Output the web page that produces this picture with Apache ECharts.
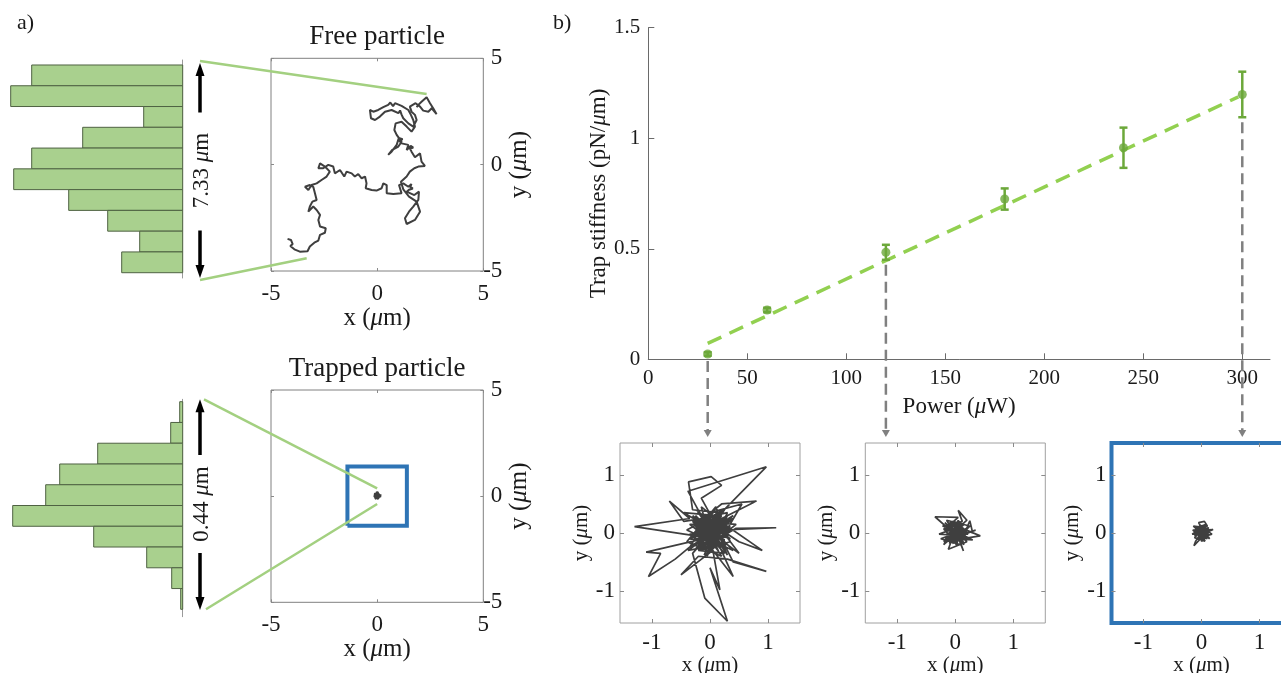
<!DOCTYPE html>
<html><head><meta charset="utf-8">
<script src="https://cdn.jsdelivr.net/npm/echarts@6/dist/echarts.min.js"></script>
<style>html,body{margin:0;padding:0;background:#fff}#c{width:1281px;height:673px}</style>
</head><body><div id="c"></div>
<script>
// ---------------- data ----------------
const histBins = [1,2,3,4,5,6,7,8,9,10];
const freeHistCounts = [151,172,39,100,151,169,114,75,43,61];
const trapHistCounts = [3,12,85,123,137,170,89,36,11,2];
const freeSpanLabel = '7.33 {i|μ}m';
const trapSpanLabel = '0.44 {i|μ}m';

const freeTraj = [
[-4.22,-3.49],[-4.06,-3.54],[-3.98,-3.74],[-4.09,-3.82],[-3.90,-3.98],[-3.64,-4.09],[-3.28,-4.07],[-3.17,-3.85],[-2.96,-3.67],[-2.77,-3.57],[-2.69,-3.30],[-2.46,-3.20],[-2.42,-2.99],[-2.69,-2.91],[-2.77,-2.60],[-2.69,-2.36],[-2.85,-2.13],[-3.01,-1.97],[-3.24,-2.21],[-3.17,-1.97],[-3.05,-1.74],[-2.85,-1.66],[-2.93,-1.35],[-3.01,-1.04],[-3.17,-0.96],[-3.40,-1.04],[-3.24,-1.19],[-3.09,-0.96],[-2.85,-0.88],[-2.62,-0.72],[-2.38,-0.56],[-2.23,-0.33],[-2.46,-0.09],[-2.69,0.06],[-2.77,-0.17],[-2.54,-0.17],[-2.30,-0.01],[-2.07,-0.09],[-1.99,-0.41],[-1.75,-0.25],[-1.55,-0.56],[-1.44,-0.33],[-1.20,-0.41],[-1.05,-0.56],[-0.89,-0.44],[-0.73,-0.64],[-0.57,-0.56],[-0.50,-0.88],[-0.54,-1.11],[-0.26,-1.19],[-0.03,-1.22],[0.21,-1.11],[0.29,-0.88],[0.45,-0.96],[0.45,-1.35],[0.76,-1.38],[1.15,-1.35],[1.03,-0.96],[1.23,-0.88],[1.47,-1.04],[1.62,-0.91],[1.55,-1.05],[1.68,-1.12],[1.50,-1.18],[1.39,-1.27],[1.75,-1.43],[1.97,-1.27],[1.94,-1.66],[1.70,-1.97],[1.50,-2.21],[1.31,-2.52],[1.39,-2.79],[1.78,-2.60],[2.02,-2.21],[1.86,-1.74],[1.50,-1.50],[1.23,-1.16],[1.12,-0.80],[1.39,-0.56],[1.54,-0.33],[1.75,-0.17],[1.94,-0.09],[2.25,-0.06],[2.09,0.14],[2.02,0.53],[1.78,0.35],[1.62,0.61],[1.55,0.75],[1.70,0.80],[1.58,0.88],[1.39,0.69],[1.47,0.93],[1.15,1.00],[1.05,1.12],[1.20,1.20],[1.02,1.25],[0.92,0.93],[0.68,0.61],[0.52,0.46],[0.71,0.69],[1.00,0.85],[1.15,1.08],[0.92,1.40],[0.81,1.63],[0.87,1.94],[1.15,2.02],[1.39,1.79],[1.62,1.55],[1.78,1.79],[1.70,2.10],[1.59,2.34],[1.47,2.57],[1.15,2.76],[0.84,2.89],[0.75,2.75],[0.62,2.92],[0.52,2.81],[0.29,2.70],[0.05,2.57],[-0.18,2.49],[-0.34,2.57],[-0.29,2.18],[-0.10,2.10],[0.13,2.26],[0.37,2.49],[0.68,2.57],[1.00,2.42],[1.08,2.55],[1.15,2.35],[1.23,2.18],[1.47,1.94],[1.70,1.79],[1.86,2.10],[1.78,2.34],[1.62,2.49],[1.54,2.73],[1.81,2.89],[2.02,2.73],[2.17,2.54],[2.41,2.49],[2.57,2.65],[2.80,2.37],[2.64,2.65],[2.49,2.89],[2.33,3.17],[2.09,2.96],[1.94,2.81],[1.86,2.70]
];
const freeAnchors = [[2.33,3.32],[-3.32,-4.40]];

const traj30 = [
[0.05,0.02],[-0.2,0.15],[0.1,-0.1],[-1.30,0.11],[-0.35,0.25],[-0.70,0.55],[-0.45,0.2],[0.2,0.3],[-0.1,-0.2],[0.3,0.1],[-0.25,-0.05],[0.15,0.35],[-0.3,0.4],[-0.37,0.88],[0.02,0.97],[0.2,0.82],[-0.15,0.6],[0.1,0.15],[0.4,0.25],[-0.2,-0.3],[0.25,-0.35],[-0.1,0.05],[0.97,1.14],[-0.38,0.72],[-0.15,0.3],[0.35,-0.1],[-0.3,0.1],[0.2,0.5],[0.8,0.55],[0.1,0.2],[-0.2,-0.15],[0.3,0.3],[-0.05,-0.4],[0.15,0.05],[1.14,0.09],[0.45,0.08],[0.05,-0.15],[-0.35,-0.1],[0.25,0.15],[0.9,-0.3],[0.5,-0.15],[-0.1,0.25],[0.2,-0.25],[-0.25,0.3],[0.1,-0.05],[-1.10,-0.33],[-0.85,-0.35],[-1.06,-0.75],[-0.6,-0.45],[-0.3,-0.2],[0.35,0.05],[-0.15,0.45],[0.05,-0.3],[-0.5,-0.72],[-0.2,-0.4],[0.3,-0.45],[0.97,-0.66],[0.4,-0.5],[0.1,0.1],[-0.3,-0.35],[-0.09,-1.12],[0.3,-1.52],[0.0,-0.6],[0.17,-0.98],[0.05,-0.3],[0.4,-0.75],[0.15,-0.2],[-0.4,0.05],[0.25,0.4],[-0.1,-0.1],[0.35,0.25],[-0.35,-0.25],[0.0,0.35],[0.55,0.5],[0.2,-0.1],[-0.2,0.2],[0.3,-0.2],[-0.15,-0.1],[0.1,0.3],[-0.45,0.35],[0.05,0.05],[0.4,-0.3],[-0.25,0.0],[0.15,0.2],[-0.05,-0.25],[0.45,0.15],[-0.3,0.2],[0.0,-0.1],[0.25,0.05],[-0.15,0.15],[0.2,-0.4],[-0.4,-0.15],[0.1,0.45],[0.3,-0.05],[-0.2,-0.2],[0.05,0.25],[0.5,-0.35],[-0.1,0.1],[0.2,0.15],[-0.35,0.15],[0.1,-0.2],[0.0,0.1],
[0.12,-0.05],[-0.22,0.1],[0.28,0.2],[-0.05,-0.35],[0.18,0.28],[-0.32,-0.08],[0.08,0.38],[0.35,-0.15],[-0.18,-0.3],[0.22,0.02],[-0.12,0.32],[0.05,-0.18],[0.3,0.35],[-0.28,0.22],[0.15,-0.32],[-0.08,0.18],[0.38,0.05],[-0.35,-0.02],[0.0,-0.28],[0.2,0.4],[-0.2,0.0],[0.12,0.15],[-0.1,-0.38],[0.25,-0.12],[-0.3,0.3],[0.08,-0.08],[0.32,0.22],[-0.15,-0.22],[0.02,0.3],[0.28,-0.28],[-0.25,0.12],[0.1,0.0],[-0.05,0.4],[0.18,-0.2],[-0.38,-0.3],[0.22,0.12],[-0.12,-0.12],[0.05,0.2],[0.3,-0.38],[-0.22,0.38],[0.15,0.1],[-0.3,-0.15],[0.4,0.3],[0.0,-0.05],[-0.18,0.25],[0.25,-0.02],[-0.08,-0.2],[0.12,0.25],[-0.25,-0.28],[0.35,0.12]
];
const traj120 = [
[0,0],[-0.15,0.1],[0.1,-0.12],[-0.35,0.28],[0.05,0.27],[-0.2,0.05],[0.12,0.2],[0.05,0.39],[0.2,0.22],[-0.1,-0.05],[0.15,0.05],[-0.25,-0.1],[0.08,-0.2],[0.25,0.21],[0.3,0.0],[-0.05,0.15],[0.43,-0.05],[0.1,-0.1],[-0.18,0.18],[0.2,-0.15],[-0.12,-0.28],[0.0,0.05],[0.14,-0.31],[0.05,-0.05],[0.35,0.05],[-0.2,-0.15],[0.1,0.12],[-0.28,-0.02],[0.18,-0.05],[-0.05,-0.18],[0.25,0.12],[-0.15,0.22],[0.05,-0.1],[0.3,-0.12],[-0.1,0.08],[0.12,0.0],[-0.22,0.12],[0.08,0.18],[-0.05,-0.12],[0.2,0.08],[-0.15,-0.08],[0.05,0.1],[0.15,-0.2],[-0.08,0.02],[0.1,0.06],[-0.2,-0.2],[0.02,0.15],[0.22,-0.02],[-0.12,0.0],[0.0,-0.15],[0.1,0.1],
[0.08,0.05],[-0.12,-0.1],[0.15,0.15],[-0.05,0.2],[0.18,-0.1],[-0.2,0.08],[0.02,-0.2],[0.12,0.1],[-0.15,-0.02],[0.1,-0.15],[-0.08,0.14],[0.2,0.02],[-0.1,-0.18],[0.05,0.22],[0.16,-0.05],[-0.18,-0.12],[0.0,0.12],[0.12,-0.08],[-0.05,-0.08],[0.08,0.2],[-0.14,0.06],[0.2,-0.12],[0.0,-0.02],[-0.1,0.18],[0.14,0.08],[-0.04,-0.14],[0.06,0.02],[-0.16,0.14],[0.1,-0.04],[-0.02,0.08]
];
const traj300 = [
[0,0],[-0.1,0.08],[0.08,-0.05],[-0.05,0.18],[0.05,0.2],[0.1,0.12],[-0.12,-0.05],[0.15,0.05],[-0.15,0.05],[0.05,-0.12],[-0.08,-0.1],[0.18,-0.02],[0.0,0.1],[-0.14,0.12],[0.1,-0.1],[-0.05,-0.05],[0.2,0.06],[0.02,0.05],[-0.1,-0.14],[-0.13,-0.22],[0.0,-0.08],[0.12,0.0],[-0.06,0.1],[0.08,0.15],[-0.16,-0.02],[0.05,-0.02],[0.14,-0.1],[-0.02,0.14],[-0.1,0.0],[0.06,0.08],[0.0,-0.15],[0.12,0.08],[-0.08,0.04],[0.04,-0.06],[0.0,0.0],
[0.05,0.08],[-0.08,-0.02],[0.1,0.04],[-0.04,0.12],[0.08,-0.08],[-0.12,0.06],[0.02,-0.1],[0.12,0.1],[-0.06,-0.12],[0.04,0.0],[-0.1,0.1],[0.14,-0.04],[-0.02,0.06],[0.06,-0.14],[-0.12,-0.08],[0.1,0.14],[-0.04,0.02],[0.02,0.12],[0.08,0.02],[-0.06,0.06]
];
const trapAnchors = [[0,0.37],[0,-0.37]];
const zoomBox = [[-1.4,-1.4],[1.4,-1.4],[1.4,1.4],[-1.4,1.4],[-1.4,-1.4]];

const power = [30,60,120,180,240,300];
const stiffness = [0.024,0.223,0.484,0.725,0.957,1.198];
const stiffnessErr = [0.008,0.010,0.034,0.048,0.091,0.103];
const fitLine = [[30,0.072],[298,1.187]];
const zoomPowerIdx = [0,2,5];

// ---------------- layout / style ----------------
const FONT = 'Liberation Serif';
const TXT = '#1a1a1a';
const GRAY = '#8a8a8a';
const BAR_FILL = '#a9d08e';
const BAR_EDGE = '#4f6243';
const LINK = '#a3d080';
const PT = '#6ca83a';
const FIT = '#92d050';
const TRAJ = '#3f3f3f';
const BLUE = '#2e74b5';

const L = {
  hist1: {left:0, top:60, width:182.7, height:218},
  free:  {left:271, top:58.3, width:212.3, height:212.7},
  hist2: {left:0, top:399.3, width:182.7, height:217.4},
  trap:  {left:271, top:390, width:212.3, height:212.3},
  main:  {left:648.3, top:27.7, width:621.7, height:331.6},
  s1:    {left:620, top:443, width:180, height:180},
  s2:    {left:865.3, top:443, width:180, height:180},
  s3:    {left:1111.5, top:443, width:180, height:180}
};

function rich(size){
  return {fontFamily:FONT, fontSize:size, color:TXT,
    rich:{i:{fontFamily:FONT, fontSize:size, fontStyle:'italic', color:TXT}}};
}

const grids = [], xAxes = [], yAxes = [], series = [];
function addGrid(r, extra){
  grids.push(Object.assign({left:r.left, top:r.top, width:r.width, height:r.height,
    containLabel:false, outerBoundsMode:'none', show:false}, extra||{}));
  return grids.length-1;
}

function histAxes(gi, ymin, ymax){
  xAxes.push({type:'value', gridIndex:gi, min:0, max:182.7, inverse:true, show:false});
  yAxes.push({type:'value', gridIndex:gi, min:ymin, max:ymax, inverse:true, position:'right',
    axisLine:{show:true, onZero:false, lineStyle:{color:'#9a9a9a', width:1}},
    axisTick:{show:false}, axisLabel:{show:false}, splitLine:{show:false}});
  return [xAxes.length-1, yAxes.length-1];
}
function histSeries(ax, counts){
  series.push({type:'custom', xAxisIndex:ax[0], yAxisIndex:ax[1], silent:true,
    encode:{x:1, y:0},
    data: histBins.map((b,i)=>[b, counts[i]]),
    renderItem:function(params, api){
      const b = api.value(0), c = api.value(1);
      const p0 = api.coord([0, b-0.5]), p1 = api.coord([c, b+0.5]);
      return {type:'rect', shape:{x:Math.min(p0[0],p1[0]), y:Math.min(p0[1],p1[1]),
        width:Math.abs(p1[0]-p0[0]), height:Math.abs(p1[1]-p0[1])},
        style:{fill:BAR_FILL, stroke:BAR_EDGE, lineWidth:1}};
    }});
}

function boxAxes(gi, o){
  const tick = {show:true, inside:true, length:o.tickLen, lineStyle:{color:GRAY}};
  if (o.custom) tick.customValues = o.custom;
  const lab = {fontFamily:FONT, fontSize:o.tickFont, color:TXT, margin:o.xMargin};
  if (o.custom) lab.customValues = o.custom;
  const base = {type:'value', gridIndex:gi, min:o.min, max:o.max, splitLine:{show:false}};
  if (o.interval) base.interval = o.interval;
  const noLine = {show:false, onZero:false};
  xAxes.push(Object.assign({}, base, {position:'bottom', axisLine:noLine,
    axisTick:tick, axisLabel:lab,
    name:'x ({i|μ}m)', nameLocation:'middle', nameGap:o.xNameGap, nameTextStyle:rich(o.nameFont)}));
  const xi = xAxes.length-1;
  xAxes.push(Object.assign({}, base, {position:'top', axisLine:noLine, axisTick:tick, axisLabel:{show:false}}));
  const ylab = Object.assign({}, lab, {margin:o.yMargin});
  if (o.yAlign) ylab.align = o.yAlign;
  yAxes.push(Object.assign({}, base, {position:o.ySide, axisLine:noLine,
    axisTick:tick, axisLabel:ylab,
    name:'y ({i|μ}m)', nameLocation:'middle', nameRotate:90, nameGap:o.yNameGap, nameTextStyle:rich(o.nameFont)}));
  const yi = yAxes.length-1;
  yAxes.push(Object.assign({}, base, {position:o.ySide==='right'?'left':'right', axisLine:noLine, axisTick:tick, axisLabel:{show:false}}));
  return [xi, yi];
}
function trajSeries(ax, data, width, color){
  series.push({type:'line', xAxisIndex:ax[0], yAxisIndex:ax[1], data:data, showSymbol:false, symbol:'none',
    silent:true, lineStyle:{color:color||TRAJ, width:width}, z:3});
}

const aOpts = {min:-5, max:5, interval:5, tickLen:3, tickFont:23, nameFont:25, xMargin:11, yMargin:19, yAlign:'right', ySide:'right', xNameGap:32, yNameGap:24};
const sOpts = {min:-1.55, max:1.55, custom:[-1,0,1], tickLen:4, tickFont:23, nameFont:21, xMargin:8, yMargin:5, ySide:'left', xNameGap:28, yNameGap:23};

// panel a
const gH1 = addGrid(L.hist1);
const axH1 = histAxes(gH1, 0.26, 10.755);
histSeries(axH1, freeHistCounts);                                   // s0
const gF = addGrid(L.free, {show:true, borderColor:'#808080', borderWidth:1});
const axF = boxAxes(gF, aOpts);
trajSeries(axF, freeTraj, 2);                                       // s1
const gH2 = addGrid(L.hist2);
const axH2 = histAxes(gH2, 0.384, 10.856);
histSeries(axH2, trapHistCounts);                                   // s2
const gT = addGrid(L.trap, {show:true, borderColor:'#808080', borderWidth:1});
const axT = boxAxes(gT, aOpts);
trajSeries(axT, traj300, 1.5);                                      // s3
series.push({type:'line', xAxisIndex:axT[0], yAxisIndex:axT[1], data:zoomBox, showSymbol:false, symbol:'none',
  silent:true, lineStyle:{color:BLUE, width:4, join:'miter'}, z:4});  // s4

// panel b main
const gM = addGrid(L.main);
xAxes.push({type:'value', gridIndex:gM, min:0, max:314, interval:50, position:'bottom',
  axisLine:{show:true, onZero:false, lineStyle:{color:'#6a6a6a', width:1}},
  axisTick:{show:true, inside:true, length:6, lineStyle:{color:'#6a6a6a'}},
  axisLabel:{fontFamily:FONT, fontSize:21, color:TXT, margin:9, showMaxLabel:false},
  splitLine:{show:false},
  name:'Power ({i|μ}W)', nameLocation:'middle', nameGap:36, nameTextStyle:rich(23)});
const mX = xAxes.length-1;
yAxes.push({type:'value', gridIndex:gM, min:0, max:1.5, interval:0.5, position:'left',
  axisLine:{show:true, onZero:false, lineStyle:{color:'#6a6a6a', width:1}},
  axisTick:{show:true, inside:true, length:6, lineStyle:{color:'#6a6a6a'}},
  axisLabel:{fontFamily:FONT, fontSize:21, color:TXT, margin:8},
  splitLine:{show:false},
  name:'Trap stiffness (pN/{i|μ}m)', nameLocation:'middle', nameRotate:90, nameGap:37, nameTextStyle:rich(23)});
const mY = yAxes.length-1;
series.push({type:'line', xAxisIndex:mX, yAxisIndex:mY, data:fitLine, showSymbol:false, symbol:'none', silent:true,
  lineStyle:{color:FIT, width:3.5, type:[15,9]}, z:2});            // s5
series.push({type:'custom', xAxisIndex:mX, yAxisIndex:mY, silent:true, encode:{x:0, y:[1,2]},
  data: power.map((p,i)=>[p, stiffness[i]-stiffnessErr[i], stiffness[i]+stiffnessErr[i]]),
  renderItem:function(params, api){
    const lo = api.coord([api.value(0), api.value(1)]);
    const hi = api.coord([api.value(0), api.value(2)]);
    const w = 4, st = {stroke:PT, lineWidth:2.5};
    return {type:'group', children:[
      {type:'line', shape:{x1:lo[0], y1:lo[1], x2:hi[0], y2:hi[1]}, style:st},
      {type:'line', shape:{x1:hi[0]-w, y1:hi[1], x2:hi[0]+w, y2:hi[1]}, style:st},
      {type:'line', shape:{x1:lo[0]-w, y1:lo[1], x2:lo[0]+w, y2:lo[1]}, style:st}
    ]};
  }, z:3});                                                          // s6
series.push({type:'scatter', xAxisIndex:mX, yAxisIndex:mY, silent:true,
  data: power.map((p,i)=>[p, stiffness[i]]), symbol:'circle', symbolSize:9,
  itemStyle:{color:PT}, z:4});                                       // s7

// panel b subplots
const gS1 = addGrid(L.s1, {show:true, borderColor:'#a0a0a0', borderWidth:1});
const axS1 = boxAxes(gS1, sOpts);
trajSeries(axS1, traj30, 1.7);                                      // s8
const gS2 = addGrid(L.s2, {show:true, borderColor:'#a0a0a0', borderWidth:1});
const axS2 = boxAxes(gS2, sOpts);
trajSeries(axS2, traj120, 1.7);                                     // s9
const gS3 = addGrid(L.s3, {show:true, borderColor:BLUE, borderWidth:4});
const axS3 = boxAxes(gS3, sOpts);
trajSeries(axS3, traj300, 1.7);                                     // s10

const chart = echarts.init(document.getElementById('c'), null, {renderer:'canvas'});
chart.setOption({animation:false, backgroundColor:'#ffffff', grid:grids, xAxis:xAxes, yAxis:yAxes, series:series});

// ---------------- annotations (computed from the chart's own coordinate systems) ----------------
const g = [];
function text(x, y, t, size, rot, align){
  g.push({type:'text', x:x, y:y, rotation:rot||0, silent:true, z:10,
    style:{text:t, fontFamily:FONT, fontSize:size, fill:TXT, align:align||'center', verticalAlign:'middle',
      rich:{i:{fontFamily:FONT, fontSize:size, fontStyle:'italic', fill:TXT}}}});
}
function seg(x1,y1,x2,y2,color,w,dash){
  g.push({type:'line', silent:true, z:9, shape:{x1,y1,x2,y2}, style:{stroke:color, lineWidth:w, lineDash:dash||null}});
}
function head(x, tipY, dir, hw, hh, color){
  g.push({type:'polygon', silent:true, z:9, shape:{points:[[x,tipY],[x-hw,tipY-dir*hh],[x+hw,tipY-dir*hh]]}, style:{fill:color}});
}
text(17, 23, 'a)', 22, 0, 'left');
text(553, 23, 'b)', 22, 0, 'left');
text(L.free.left+L.free.width/2, 37, 'Free particle', 27);
text(L.trap.left+L.trap.width/2, 369, 'Trapped particle', 27);

{
  const r = L.hist1, x = 200, top = r.top + 3, bot = r.top + r.height;
  const mid = (top + bot) / 2;
  head(x, top, -1, 4.5, 13, '#000');
  seg(x, top+10, x, mid-58, '#000', 3.5);
  head(x, bot, 1, 4.5, 13, '#000');
  seg(x, bot-10, x, mid+60, '#000', 3.5);
  text(x+2, mid, freeSpanLabel, 23, Math.PI/2);
}
{
  const r = L.hist2, x = 200;
  head(x, r.top, -1, 4.5, 13, '#000');
  seg(x, r.top+10, x, 455, '#000', 3.5);
  head(x, 610, 1, 4.5, 13, '#000');
  seg(x, 600, x, 553, '#000', 3.5);
  text(x+2, 504, trapSpanLabel, 23, Math.PI/2);
}
const fTop = chart.convertToPixel({seriesIndex:1}, freeAnchors[0]);
const fBot = chart.convertToPixel({seriesIndex:1}, freeAnchors[1]);
seg(200, L.hist1.top+1, fTop[0], fTop[1], LINK, 2.5);
seg(200, L.hist1.top+L.hist1.height+2, fBot[0], fBot[1], LINK, 2.5);
const tTop = chart.convertToPixel({seriesIndex:3}, trapAnchors[0]);
const tBot = chart.convertToPixel({seriesIndex:3}, trapAnchors[1]);
seg(204, L.hist2.top, tTop[0], tTop[1], LINK, 2.5);
seg(206, L.hist2.top+210, tBot[0], tBot[1], LINK, 2.5);
const subTops = [L.s1.top, L.s2.top, L.s3.top];
zoomPowerIdx.forEach((k, j)=>{
  const p = chart.convertToPixel({seriesIndex:7}, [power[k], stiffness[k]]);
  const lo = chart.convertToPixel({seriesIndex:7}, [power[k], stiffness[k]-stiffnessErr[k]]);
  const y0 = Math.max(p[1] + 7, lo[1] + 5);
  const tip = subTops[j] - 6;
  seg(p[0], y0, p[0], tip-5, '#808080', 2.5, [11,6]);
  head(p[0], tip, 1, 4, 7, '#808080');
});
chart.setOption({graphic:g});
</script></body></html>
